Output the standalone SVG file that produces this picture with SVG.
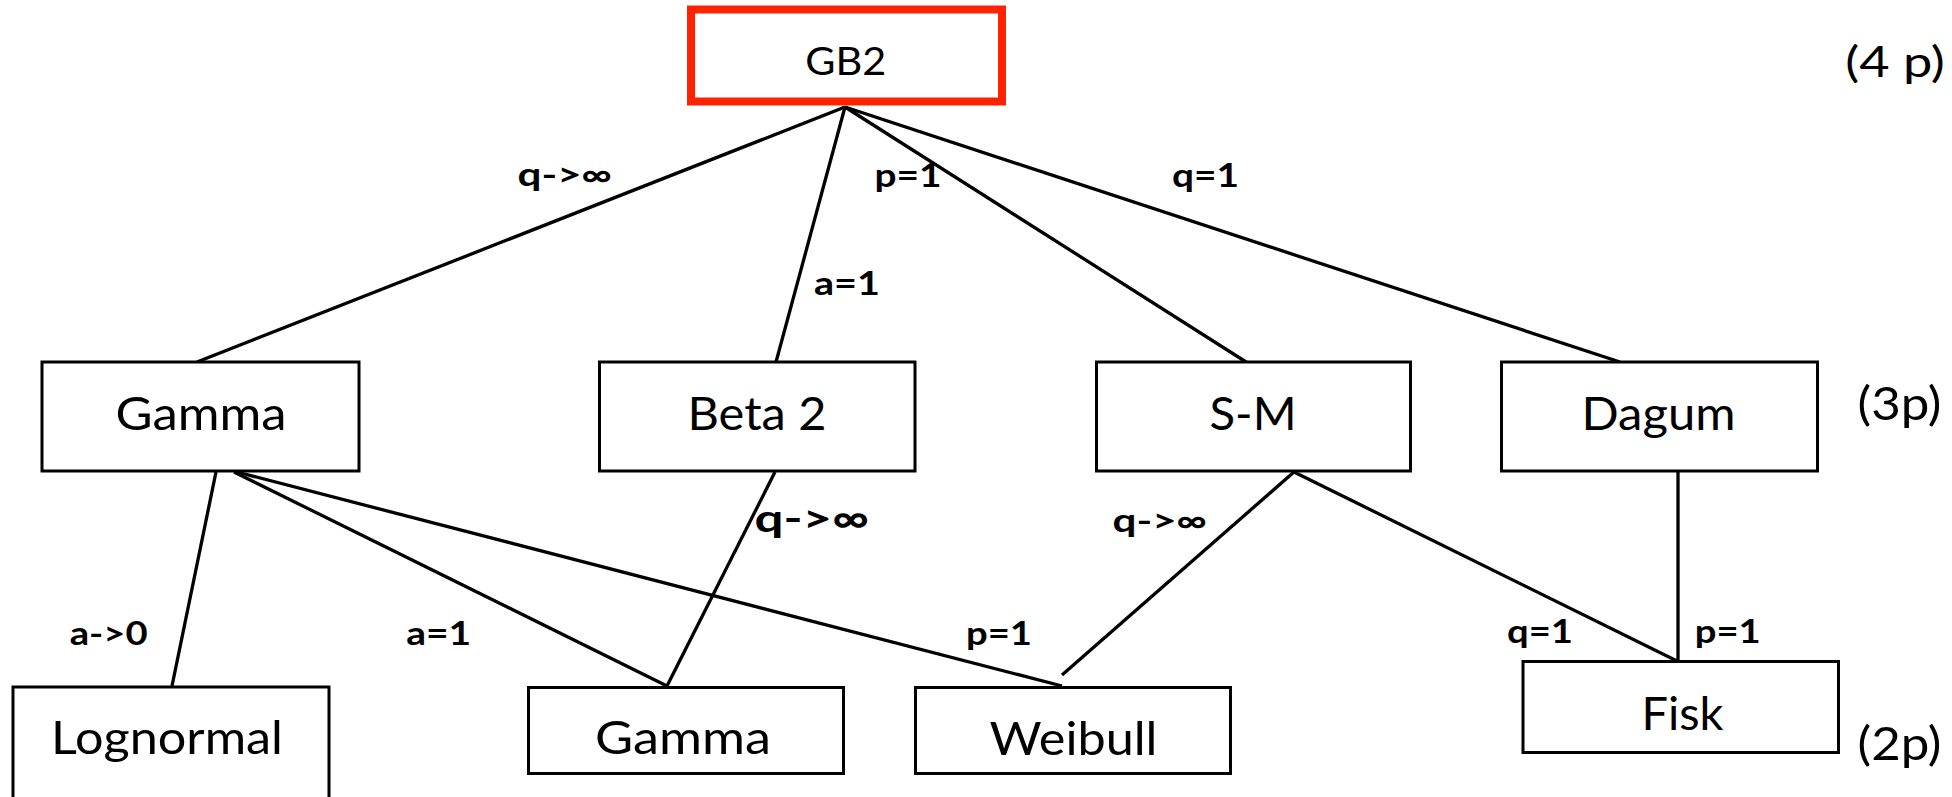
<svg xmlns="http://www.w3.org/2000/svg" width="1952" height="797" viewBox="0 0 1952 797">
<style>
.box{fill:#fff;stroke:#000;stroke-width:3}
.root{fill:#fff;stroke:#FF2200;stroke-width:8}
.lbl{font-family:Lato,"Open Sans",sans-serif;font-size:46px;fill:#000;text-anchor:middle}
.edge{font-family:Lato,"Open Sans",sans-serif;font-size:32px;font-weight:bold;fill:#000;text-anchor:middle}
.conn line{stroke:#000;stroke-width:3.3}
</style>
<rect width="1952" height="797" fill="#fff"/>
<g id="connectors" class="conn">
<line x1="845" y1="107" x2="197" y2="362"/>
<line x1="845" y1="107" x2="776" y2="362"/>
<line x1="845" y1="107" x2="1265" y2="374"/>
<line x1="845" y1="107" x2="1620" y2="362"/>
<line x1="216" y1="472" x2="172" y2="686"/>
<line x1="234" y1="472" x2="667" y2="686"/>
<line x1="237" y1="472" x2="1062" y2="686"/>
<line x1="775" y1="472" x2="667" y2="686"/>
<line x1="1294" y1="472" x2="1062" y2="675"/>
<line x1="1294" y1="472" x2="1677" y2="661"/>
<line x1="1678" y1="472" x2="1678" y2="661"/>
</g>
<g id="edge-labels">
<text class="edge" x="565" y="186" textLength="95" lengthAdjust="spacingAndGlyphs">q-&gt;∞</text>
<text class="edge" x="908" y="187" textLength="67" lengthAdjust="spacingAndGlyphs">p=1</text>
<text class="edge" x="1205.5" y="187" textLength="67" lengthAdjust="spacingAndGlyphs">q=1</text>
<text class="edge" x="847" y="295" textLength="66" lengthAdjust="spacingAndGlyphs">a=1</text>
<text class="edge" x="812" y="532" style="font-size:39px" textLength="115" lengthAdjust="spacingAndGlyphs">q-&gt;∞</text>
<text class="edge" x="1160" y="532" textLength="95" lengthAdjust="spacingAndGlyphs">q-&gt;∞</text>
<text class="edge" x="108.7" y="645" textLength="78" lengthAdjust="spacingAndGlyphs">a-&gt;0</text>
<text class="edge" x="438.7" y="645" textLength="65" lengthAdjust="spacingAndGlyphs">a=1</text>
<text class="edge" x="999" y="645" textLength="66" lengthAdjust="spacingAndGlyphs">p=1</text>
<text class="edge" x="1540" y="643" textLength="66" lengthAdjust="spacingAndGlyphs">q=1</text>
<text class="edge" x="1727.7" y="643" textLength="66" lengthAdjust="spacingAndGlyphs">p=1</text>
</g>
<g id="node-gb2">
<rect class="root" x="691" y="9.5" width="311" height="92"/>
<text class="lbl" x="845.7" y="75" style="font-size:39.5px" textLength="81" lengthAdjust="spacingAndGlyphs">GB2</text>
</g>
<g id="node-gamma">
<rect class="box" x="42" y="362" width="317" height="109"/>
<text class="lbl" x="201" y="430" textLength="171" lengthAdjust="spacingAndGlyphs">Gamma</text>
</g>
<g id="node-beta2">
<rect class="box" x="599.5" y="362" width="315.5" height="109"/>
<text class="lbl" x="757" y="430" textLength="139" lengthAdjust="spacingAndGlyphs">Beta 2</text>
</g>
<g id="node-sm">
<rect class="box" x="1096.5" y="362" width="314" height="109"/>
<text class="lbl" x="1253" y="430" textLength="87" lengthAdjust="spacingAndGlyphs">S-M</text>
</g>
<g id="node-dagum">
<rect class="box" x="1501.5" y="362" width="316" height="109"/>
<text class="lbl" x="1658.5" y="430" textLength="154" lengthAdjust="spacingAndGlyphs">Dagum</text>
</g>
<g id="node-lognormal">
<rect class="box" x="13" y="687" width="316" height="120"/>
<text class="lbl" x="167" y="754" textLength="232" lengthAdjust="spacingAndGlyphs">Lognormal</text>
</g>
<g id="node-gamma2">
<rect class="box" x="528.5" y="687.5" width="315" height="86"/>
<text class="lbl" x="683" y="754" textLength="176" lengthAdjust="spacingAndGlyphs">Gamma</text>
</g>
<g id="node-weibull">
<rect class="box" x="915.5" y="687.5" width="315" height="86"/>
<text class="lbl" x="1073.5" y="755" textLength="168" lengthAdjust="spacingAndGlyphs">Weibull</text>
</g>
<g id="node-fisk">
<rect class="box" x="1523" y="661.5" width="315.5" height="91"/>
<text class="lbl" x="1682.5" y="730" textLength="82" lengthAdjust="spacingAndGlyphs">Fisk</text>
</g>
<g id="level-labels">
<text class="lbl" x="1895" y="77" style="font-size:43px" textLength="99.6" lengthAdjust="spacingAndGlyphs">(4 p)</text>
<text class="lbl" x="1899.5" y="420" textLength="84" lengthAdjust="spacingAndGlyphs">(3p)</text>
<text class="lbl" x="1899.5" y="760" textLength="84" lengthAdjust="spacingAndGlyphs">(2p)</text>
</g>
</svg>
